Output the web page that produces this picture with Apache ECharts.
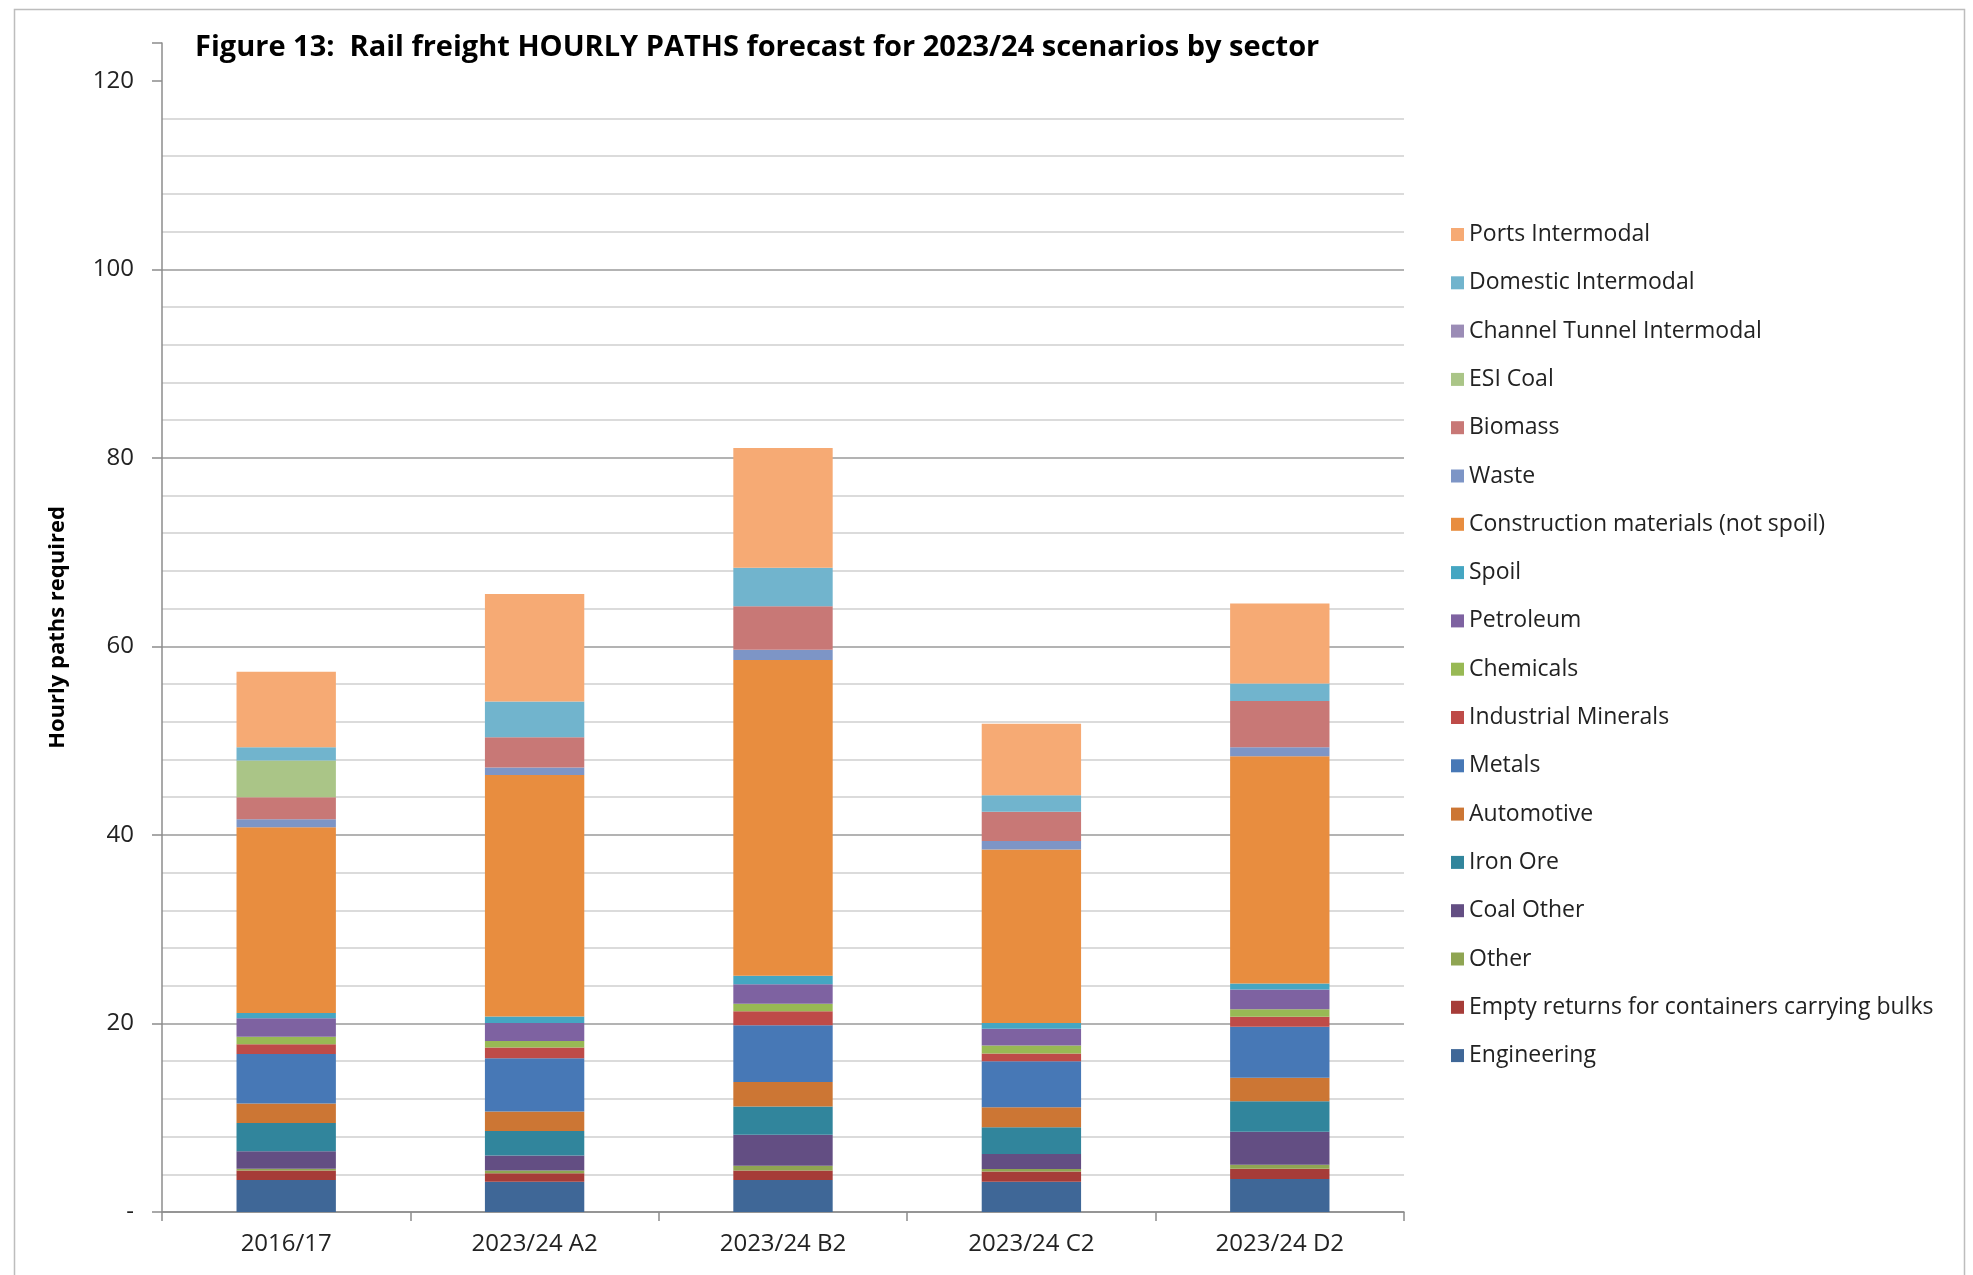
<!DOCTYPE html>
<html>
<head>
<meta charset="utf-8">
<script src="https://cdn.jsdelivr.net/npm/echarts@6/dist/echarts.min.js"></script>
<style>
html,body{margin:0;padding:0;background:#fff;}
#chart{width:1973px;height:1275px;}
</style>
</head>
<body>
<div id="chart"></div>
<script>
// ---- data ----
const categories = ['2016/17', '2023/24 A2', '2023/24 B2', '2023/24 C2', '2023/24 D2'];
const seriesNames = ['Engineering', 'Empty returns for containers carrying bulks', 'Other', 'Coal Other', 'Iron Ore', 'Automotive', 'Metals', 'Industrial Minerals', 'Chemicals', 'Petroleum', 'Spoil', 'Construction materials (not spoil)', 'Waste', 'Biomass', 'ESI Coal', 'Channel Tunnel Intermodal', 'Domestic Intermodal', 'Ports Intermodal'];
const engineering = [3.4, 3.2, 3.4, 3.2, 3.5];
const emptyReturns = [1.0, 0.9, 1.0, 1.1, 1.1];
const other = [0.2, 0.3, 0.5, 0.25, 0.4];
const coalOther = [1.85, 1.6, 3.3, 1.6, 3.5];
const ironOre = [3.0, 2.6, 3.0, 2.85, 3.25];
const automotive = [2.05, 2.05, 2.6, 2.1, 2.5];
const metals = [5.25, 5.65, 6.0, 4.9, 5.4];
const industrialMinerals = [1.05, 1.15, 1.5, 0.8, 1.05];
const chemicals = [0.8, 0.7, 0.8, 0.85, 0.8];
const petroleum = [1.95, 1.9, 2.05, 1.8, 2.1];
const spoil = [0.55, 0.7, 0.9, 0.6, 0.65];
const construction = [19.7, 25.6, 33.5, 18.4, 24.1];
const waste = [0.85, 0.8, 1.1, 0.9, 0.95];
const biomass = [2.35, 3.2, 4.6, 3.1, 4.9];
const esiCoal = [3.9, 0, 0, 0, 0];
const channelTunnel = [0, 0, 0, 0, 0];
const domesticIntermodal = [1.4, 3.8, 4.1, 1.75, 1.85];
const portsIntermodal = [8.0, 11.4, 12.7, 7.6, 8.5];
const yTickLabels = ['-', '20', '40', '60', '80', '100', '120'];

const seriesValues = [engineering, emptyReturns, other, coalOther, ironOre, automotive, metals, industrialMinerals, chemicals, petroleum, spoil, construction, waste, biomass, esiCoal, channelTunnel, domesticIntermodal, portsIntermodal];
const seriesColors = ['#3F6797', '#A63C38', '#8FA552', '#634E83', '#31859C', '#CC7634', '#4778B6', '#BE4B48', '#98B954', '#7E62A1', '#45A6C2', '#E88D3F', '#7D95C6', '#C87876', '#AAC587', '#9B8CB6', '#71B4CD', '#F6AA74'];

// split line colours: every 4 units, darker every 20, none at 120/124
const gridColors = [];
for (let i = 0; i <= 31; i++) {
  if (i >= 30) gridColors.push('rgba(0,0,0,0)');
  else if (i % 5 === 0) gridColors.push('#9a9a9a');
  else gridColors.push('#cfcfcf');
}

const chart = echarts.init(document.getElementById('chart'), null, {renderer: 'canvas'});
const option = {
  backgroundColor: '#ffffff',
  animation: false,
  title: {
    text: 'Figure 13:  Rail freight HOURLY PATHS forecast for 2023/24 scenarios by sector',
    left: 190, top: 28,
    textStyle: {fontFamily: 'Open Sans', fontWeight: 'bold', fontSize: 29, color: '#000'}
  },
  graphic: [{
    type: 'rect', left: 12, top: 7, silent: true, z: -10,
    shape: {width: 1950, height: 1300},
    style: {fill: 'none', stroke: '#bdbdbd', lineWidth: 1.5}
  }],
  legend: {
    orient: 'vertical',
    left: 1446, top: 218,
    data: seriesNames.slice().reverse(),
    itemWidth: 13, itemHeight: 13, itemGap: 25.3,
    icon: 'rect',
    textStyle: {fontFamily: 'Open Sans', fontSize: 23, color: '#222', lineHeight: 23}
  },
  grid: {left: 162, right: 569, top: 43, bottom: 63, containLabel: false},
  xAxis: {
    type: 'category', data: categories,
    axisLine: {lineStyle: {color: '#8c8c8c', width: 1.5}},
    axisTick: {show: true, length: 9, lineStyle: {color: '#8c8c8c', width: 1.5}},
    axisLabel: {fontFamily: 'Open Sans', fontSize: 24, color: '#222', margin: 20}
  },
  yAxis: [{
    type: 'value', min: 0, max: 124, interval: 20,
    name: 'Hourly paths required', nameLocation: 'middle', nameGap: 93,
    nameTextStyle: {fontFamily: 'Open Sans', fontWeight: 'bold', fontSize: 22, color: '#000'},
    axisLine: {show: true, lineStyle: {color: '#8c8c8c', width: 1.5}},
    axisTick: {show: true, length: 10, lineStyle: {color: '#8c8c8c', width: 1.5}},
    axisLabel: {
      fontFamily: 'Open Sans', fontSize: 24, color: '#222', margin: 28,
      formatter: function (v) { const i = Math.round(v / 20); return (v % 20 === 0 && yTickLabels[i] !== undefined) ? yTickLabels[i] : ''; }
    },
    splitLine: {show: false}
  }, {
    type: 'value', min: 0, max: 124, interval: 4, position: 'left',
    axisLine: {show: false}, axisTick: {show: false}, axisLabel: {show: false},
    splitLine: {show: true, lineStyle: {color: gridColors, width: 1.5}}
  }],
  series: seriesNames.map(function (name, i) {
    return {
      name: name, type: 'bar', stack: 'total', yAxisIndex: 0,
      barWidth: '40%',
      data: seriesValues[i],
      itemStyle: {color: seriesColors[i]}
    };
  })
};
chart.setOption(option);
</script>
</body>
</html>
